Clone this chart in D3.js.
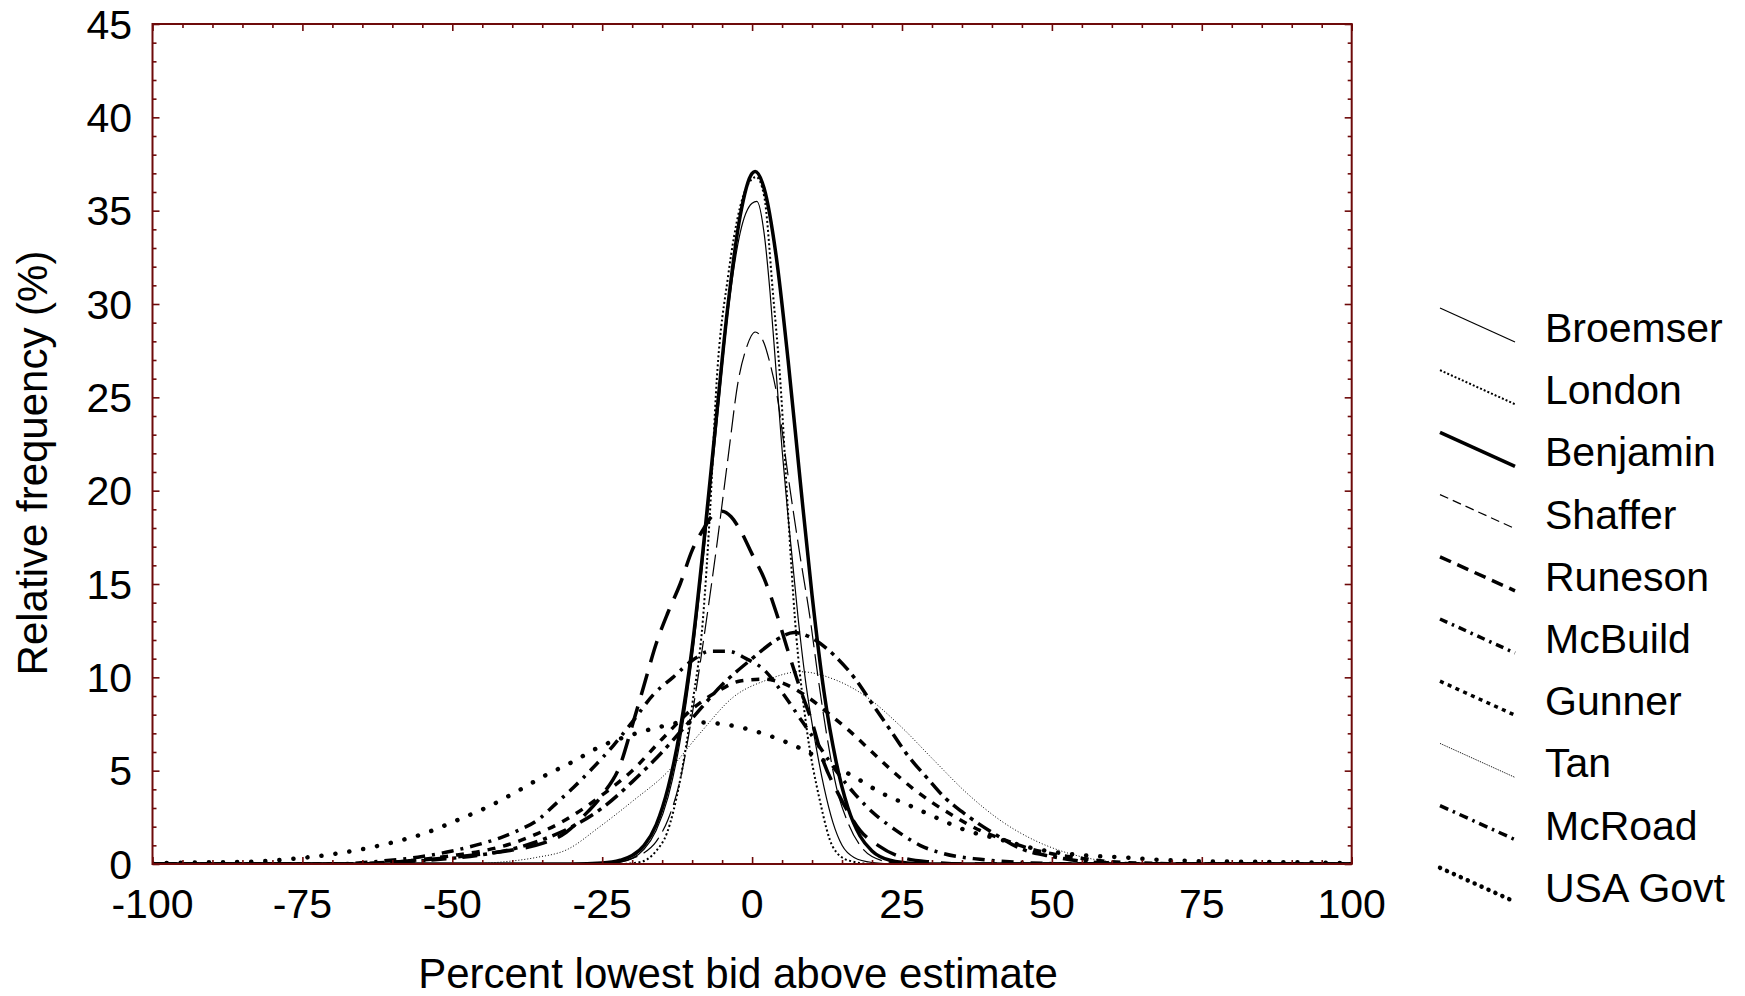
<!DOCTYPE html>
<html><head><meta charset="utf-8">
<script src="https://cdn.jsdelivr.net/npm/d3@7"></script>
<style>body{margin:0;background:#fff}svg{display:block}text{font-family:"Liberation Sans",Arial,sans-serif;fill:#000}</style>
</head><body><svg id="c" width="1745" height="996"></svg>
<script>
const seriesNames = ["Broemser","London","Benjamin","Shaffer","Runeson","McBuild","Gunner","Tan","McRoad","USA Govt"];
const xTickLabels = [-100,-75,-50,-25,0,25,50,75,100];
const yTickLabels = [0,5,10,15,20,25,30,35,40,45];

const broemser = [[-100,0],[-26,0],[-22,0.1],[-20,0.3],[-18,0.8],[-16,1.8],[-14,3.6],[-12,6.6],[-10,11.0],[-8,16.8],[-6,23.2],[-4,29.6],[-2,33.8],[0,35.4],[0.8,35.5],[2,33.8],[3,30.6],[4,26.4],[5,22.2],[6,18.6],[7.7,13.1],[9,9.6],[10.5,6.6],[12,4.1],[13.5,2.2],[15,1.0],[17,0.35],[20,0.08],[24,0],[100,0]];
const london = [[-100,0],[-22,0],[-19,0.08],[-17.5,0.25],[-16,0.7],[-14.2,1.66],[-12,4.5],[-10,8.5],[-8.2,13.1],[-7,19.0],[-5.9,25.9],[-4,31.5],[-2,35.2],[0,36.7],[0.7,36.8],[2,35.8],[3.5,30.5],[4.7,25.9],[6,18.8],[7.15,13.1],[9,7.5],[11.3,3.4],[13.5,0.9],[16,0.2],[20,0],[100,0]];
const benjamin = [[-100,0],[-30,0],[-25,0.05],[-22,0.2],[-20,0.45],[-18,1.0],[-16,2.1],[-14,4.1],[-12,7.2],[-10,11.6],[-8,17.4],[-6,23.8],[-4,30.0],[-2,34.7],[0,37.0],[0.5,37.1],[2,36.2],[4,32.6],[6,27.0],[8,20.6],[10,14.4],[12,9.2],[14,5.5],[16,3.0],[18,1.5],[20,0.7],[23,0.2],[27,0.03],[32,0],[100,0]];
const shaffer = [[-100,0],[-25,0],[-22,0.1],[-20,0.3],[-18,0.6],[-16,1.2],[-14,2.4],[-12,4.5],[-10,8.0],[-7.6,13.1],[-6,16.8],[-4,21.8],[-2.3,25.9],[-1,27.6],[0.5,28.5],[2,27.9],[3,26.8],[4.1,25.2],[6,20.8],[8,16.5],[9.7,13.1],[11,10.0],[12.5,6.8],[14,4.2],[16,2.2],[18,1.0],[20,0.4],[24,0.05],[28,0],[100,0]];
const runeson = [[-100,0],[-65,0],[-58,0.15],[-52,0.3],[-46,0.5],[-40,0.75],[-35,1.1],[-31,1.7],[-28,2.6],[-25,3.7],[-22,5.3],[-20,7.4],[-18,9.6],[-16,11.8],[-14,13.5],[-12,15.0],[-10,16.8],[-8,18.0],[-6.5,18.7],[-5,18.9],[-3.5,18.6],[-2,17.9],[0,16.6],[2,15.3],[4,13.5],[6,11.4],[8,9.4],[10,7.6],[12,5.4],[14,4.0],[16,2.8],[18,1.8],[21,1.0],[25,0.35],[30,0.1],[36,0],[100,0]];
const mcbuild = [[-100,0],[-70,0],[-62,0.15],[-55,0.4],[-50,0.7],[-45,1.1],[-42,1.4],[-39,1.8],[-36,2.3],[-32.5,3.3],[-29.8,4.1],[-26.7,5.1],[-23,6.4],[-20,7.6],[-16.4,9.1],[-13.2,10.0],[-10,10.9],[-7,11.4],[-4,11.4],[-1,11.0],[2,10.4],[5,9.2],[8,7.8],[11,6.4],[14,5.0],[17,3.8],[20,2.8],[24,1.8],[28,1.0],[32,0.55],[38,0.25],[45,0.08],[55,0],[100,0]];
const gunner = [[-100,0],[-65,0],[-55,0.25],[-50,0.45],[-45,0.7],[-40,1.1],[-36,1.6],[-32,2.2],[-28,3.0],[-25,3.7],[-20,5.0],[-15,6.7],[-10,8.3],[-6,9.2],[-2,9.8],[2,9.9],[5,9.7],[9,9.0],[13,8.0],[16,7.2],[20,6.0],[23,5.1],[27,4.0],[30,3.3],[34,2.5],[38,1.8],[42,1.3],[46,0.85],[50,0.55],[55,0.3],[60,0.12],[68,0.03],[75,0],[100,0]];
const tan = [[-100,0],[-48,0],[-42,0.1],[-36,0.35],[-31,0.75],[-25.4,2.0],[-19.8,3.4],[-14.2,4.9],[-8.7,7.0],[-3.1,8.95],[2.4,9.85],[8,10.3],[14,9.85],[19.1,8.95],[24.7,7.4],[30.2,5.6],[35.8,3.8],[41.3,2.36],[46.9,1.3],[52.5,0.6],[58,0.2],[65,0.03],[72,0],[100,0]];
const mcroad = [[-100,0],[-70,0],[-60,0.1],[-52,0.25],[-45,0.5],[-40,0.8],[-35,1.3],[-30,2.0],[-25,3.0],[-20,4.4],[-15,6.0],[-10,7.8],[-5,9.6],[0,11.0],[4,12.0],[7,12.4],[10,12.1],[13.3,11.3],[17,10.0],[20,8.6],[23,7.2],[26,5.8],[29.5,4.5],[32,3.6],[35,2.8],[40,1.7],[45,0.8],[50,0.4],[55,0.15],[60,0.05],[66,0],[100,0]];
const usagovt = [[-100,0.03],[-95.7,0.07],[-84,0.12],[-79.2,0.2],[-74.6,0.34],[-69.9,0.53],[-65.1,0.79],[-60.4,1.12],[-55,1.6],[-48.7,2.41],[-44,3.07],[-39.3,3.87],[-34.7,4.71],[-29.9,5.48],[-25.4,6.28],[-20.7,6.86],[-15.9,7.3],[-11.2,7.6],[-6.5,7.55],[-1.7,7.3],[3,6.86],[7.8,6.23],[12.5,5.45],[17.2,4.64],[21.6,3.8],[26.5,3.1],[31.2,2.41],[35.8,1.79],[40.5,1.39],[47.5,0.8],[52.5,0.55],[56.9,0.43],[61.6,0.36],[66.4,0.25],[75,0.15],[88.5,0.1],[100,0.05]];

const seriesData = [broemser,london,benjamin,shaffer,runeson,mcbuild,gunner,tan,mcroad,usagovt];

const styles = [
  {w:1.2, d:null, ld:null},
  {w:2, d:"2,2.5", ld:"2,2"},
  {w:3.5, d:null, ld:null},
  {w:1.2, d:"22,7", ld:"9,5"},
  {w:3.5, d:"22,12", ld:"12,7"},
  {w:3.5, d:"12,7,3,7", ld:"8,5,2.5,5"},
  {w:3.5, d:"8,8", ld:"4,4.5"},
  {w:1, d:"1,2", ld:"1,1"},
  {w:3.5, d:"15,6,4,6", ld:"9,5,2.5,5"},
  {w:4.5, d:"0.1,14", ld:"0.1,7.5", cap:"round"}
];

const svg = d3.select("#c");
const L=152.5, R=1351.7, T=24, B=864;
const x = d3.scaleLinear().domain([-100,100]).range([L,R]);
const y = d3.scaleLinear().domain([0,45]).range([B,T]);
const frameColor = "#6e0a0a";

svg.append("clipPath").attr("id","clip").append("rect").attr("x",L).attr("y",T-2).attr("width",R-L).attr("height",B-T+2);

const line = d3.line().x(d=>x(d[0])).y(d=>y(d[1])).curve(d3.curveMonotoneX);
const g = svg.append("g").attr("clip-path","url(#clip)");
seriesData.forEach((data,i)=>{
  const s = styles[i];
  g.append("path").attr("d",line(data)).attr("fill","none").attr("stroke","#000")
   .attr("stroke-width",s.w).attr("stroke-dasharray",s.d).attr("stroke-linecap",s.cap||"butt");
});

svg.append("rect").attr("x",L).attr("y",T).attr("width",R-L).attr("height",B-T)
  .attr("fill","none").attr("stroke",frameColor).attr("stroke-width",2);

const fs = 41;
const xb = svg.append("g").attr("transform",`translate(0,${B})`)
  .call(d3.axisBottom(x).tickValues(d3.range(-100,101,5)).tickSize(0).tickFormat(""));
xb.select(".domain").remove();
xb.selectAll(".tick line").attr("y2",d=>d%25===0?-7:-4).attr("stroke",frameColor).attr("stroke-width",1.6);
const xt = svg.append("g").attr("transform",`translate(0,${T})`)
  .call(d3.axisTop(x).tickValues(d3.range(-100,101,5)).tickSize(0).tickFormat(""));
xt.select(".domain").remove();
xt.selectAll(".tick line").attr("y2",d=>d%25===0?7:4).attr("stroke",frameColor).attr("stroke-width",1.6);
const yl = svg.append("g").attr("transform",`translate(${L},0)`)
  .call(d3.axisLeft(y).tickValues(d3.range(0,46,1)).tickSize(0).tickFormat(""));
yl.select(".domain").remove();
yl.selectAll(".tick line").attr("x2",d=>d%5===0?7:4).attr("stroke",frameColor).attr("stroke-width",1.6);
const yr = svg.append("g").attr("transform",`translate(${R},0)`)
  .call(d3.axisRight(y).tickValues(d3.range(0,46,1)).tickSize(0).tickFormat(""));
yr.select(".domain").remove();
yr.selectAll(".tick line").attr("x2",d=>d%5===0?-7:-4).attr("stroke",frameColor).attr("stroke-width",1.6);

svg.append("g").selectAll("text").data(xTickLabels).join("text")
  .attr("x",d=>x(d)).attr("y",918).attr("text-anchor","middle").attr("font-size",fs).text(d=>d);
svg.append("g").selectAll("text").data(yTickLabels).join("text")
  .attr("x",132).attr("y",d=>y(d)+14.5).attr("text-anchor","end").attr("font-size",fs).text(d=>d);

svg.append("text").attr("x",738).attr("y",988).attr("text-anchor","middle").attr("font-size",42)
  .text("Percent lowest bid above estimate");
svg.append("text").attr("transform","translate(47,463) rotate(-90)").attr("text-anchor","middle").attr("font-size",42)
  .text("Relative frequency (%)");

const lg = svg.append("g");
seriesNames.forEach((n,i)=>{
  const by = 342 + i*62.2;
  const s = styles[i];
  lg.append("line").attr("x1",1440).attr("y1",by-34).attr("x2",1515).attr("y2",by)
    .attr("stroke","#000").attr("stroke-width",s.w).attr("stroke-dasharray",s.ld).attr("stroke-linecap",s.cap||"butt");
  lg.append("text").attr("x",1545).attr("y",by).attr("font-size",fs).text(n);
});
</script></body></html>
